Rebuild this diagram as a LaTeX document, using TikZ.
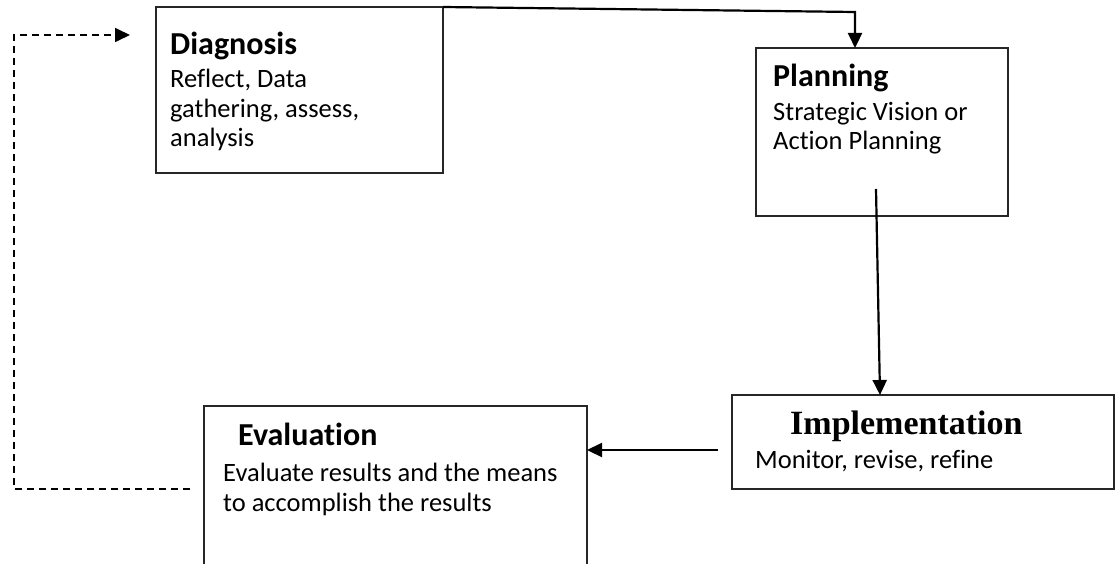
\documentclass[tikz,border=0pt]{standalone}
\usepackage{fontspec}
\setmainfont{Carlito}[Ligatures=NoCommon]
\newfontfamily\headserif{Liberation Serif}[Ligatures=NoCommon]
\usetikzlibrary{arrows.meta}
\begin{document}
\begin{tikzpicture}[x=1pt,y=-1pt,
  box/.style={draw=black!85,line width=1.6pt,inner sep=0pt,outer sep=0pt,anchor=north west},
  head/.style={anchor=base west,inner sep=0pt,font=\fontsize{32}{36}\selectfont\bfseries},
  body/.style={anchor=base west,inner sep=0pt,align=left,font=\fontsize{26.5}{29.5}\selectfont},
  flow/.style={line width=2.2pt,-{Triangle[length=15pt,width=14pt]}},
  loop/.style={flow,dash pattern=on 7pt off 5pt,line width=1.7pt}]
\useasboundingbox (0,0) rectangle (1115,564);
\clip (0,0) rectangle (1115,564);

% process boxes
\node[box,minimum width=287pt,minimum height=166pt] (diag) at (156,7) {};
\node[box,minimum width=252pt,minimum height=168pt] (plan) at (756,48) {};
\node[box,minimum width=382pt,minimum height=94pt] (impl) at (732,395) {};
\node[box,minimum width=383pt,minimum height=200pt] (eval) at (204,406) {};

% box texts (multi-line blocks are placed by the baseline of their last line)
\node[head] (diagH) at (170,55) {Diagnosis};
\node[body] (diagB) at (170,147) {Reflect, Data\\gathering, assess,\\analysis};
\node[head] (planH) at (773,87) {Planning};
\node[body] (planB) at (773,150) {Strategic Vision or\\Action Planning};
\node[head,font=\fontsize{34}{38}\selectfont\headserif\bfseries] (implH) at (790,434) {Implementation};
\node[body] (implB) at (755,468) {Monitor, revise, refine};
\node[head] (evalH) at (238,445) {Evaluation};
\node[body] (evalB) at (223,511) {Evaluate results and the means\\to accomplish the results};

% flow connectors
\coordinate (bend) at (855,12);
\draw[flow] (diag.north east) -- (bend) -- (bend |- plan.north);
\coordinate (pstart) at (876,189);
\draw[flow] (pstart) -- ([xshift=4pt]pstart |- impl.north);
\coordinate (istart) at (718,450);
\draw[flow] (istart) -- (istart -| eval.east);

% feedback loop
\coordinate (d1) at (190,489);
\coordinate (d2) at (14,489);
\coordinate (d3) at (14,35);
\draw[loop] (d1) -- (d2) -- (d3) -- ([xshift=-26pt]d3 -| diag.west);
\end{tikzpicture}
\end{document}
